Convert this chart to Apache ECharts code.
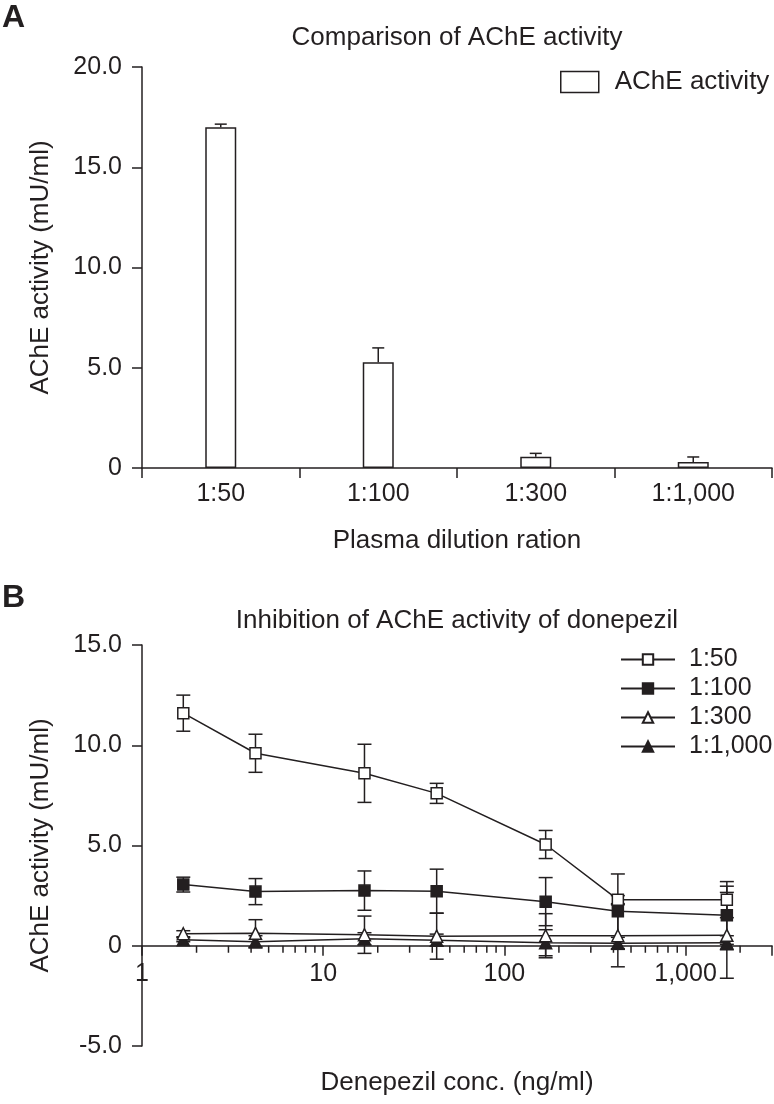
<!DOCTYPE html>
<html>
<head>
<meta charset="utf-8">
<script src="https://cdn.jsdelivr.net/npm/echarts@6/dist/echarts.min.js"></script>
<style>
html,body{margin:0;padding:0;background:#fff;}
#chart{width:774px;height:1104px;}
</style>
</head>
<body>
<div id="chart"></div>
<script>
// ---- Panel A data ----
const categoriesA = ['1:50', '1:100', '1:300', '1:1,000'];
const barValues = [17.0, 5.27, 0.56, 0.30];
const barErrors = [0.15, 0.72, 0.17, 0.25];

// ---- Panel B data ----
const concentrations = [1.69, 4.23, 16.9, 42.3, 169, 423, 1690];
const s50 = [11.6, 9.6, 8.6, 7.6, 5.05, 2.3, 2.3];
const e50 = [0.9, 0.95, 1.45, 0.5, 0.7, 0.2, 0.9];
const s100 = [3.05, 2.7, 2.75, 2.72, 2.2, 1.72, 1.52];
const e100 = [0.37, 0.65, 0.98, 1.1, 1.2, 1.86, 1.45];
const s300 = [0.6, 0.62, 0.55, 0.48, 0.5, 0.5, 0.52];
const e300 = [0.15, 0.68, 0.93, 1.15, 1.1, 1.55, 2.14];
const s1000 = [0.3, 0.2, 0.35, 0.28, 0.15, 0.12, 0.15];
const e1000 = [0.1, 0.3, 0.3, 0.3, 0.65, 0.3, 0.35];
const seriesNamesB = ['1:50', '1:100', '1:300', '1:1,000'];
const majorTicksB = [1, 10, 100, 1000];
const minorTicksB = [2,3,4,5,6,7,8,9,20,30,40,50,60,70,80,90,200,300,400,500,600,700,800,900,2000];

const INK = '#231f20';
const FONT = "'Liberation Sans', Arial, Helvetica, sans-serif";
const LW = 1.5;

function fmtThousands(v) {
  return String(Math.round(v)).replace(/\B(?=(\d{3})+(?!\d))/g, ',');
}
function errRender(capHalf, upOnly) {
  return function (params, api) {
    const x = api.value(0), y = api.value(1), e = api.value(2);
    const pc = api.coord([x, y]);
    const pt = api.coord([x, y + e]);
    const pb = api.coord([x, upOnly ? y : y - e]);
    const st = {stroke: INK, lineWidth: LW, fill: null};
    const ch = [
      {type: 'line', shape: {x1: pc[0], y1: pt[1], x2: pc[0], y2: pb[1]}, style: st},
      {type: 'line', shape: {x1: pc[0] - capHalf, y1: pt[1], x2: pc[0] + capHalf, y2: pt[1]}, style: st}
    ];
    if (!upOnly) ch.push({type: 'line', shape: {x1: pc[0] - capHalf, y1: pb[1], x2: pc[0] + capHalf, y2: pb[1]}, style: st});
    return {type: 'group', children: ch};
  };
}
function zip3(xs, ys, es) { return xs.map((x, i) => [x, ys[i], es[i]]); }
function zip2(xs, ys) { return xs.map((x, i) => [x, ys[i]]); }

const chart = echarts.init(document.getElementById('chart'), null, {renderer: 'canvas'});

const axisLine = {show: true, onZero: false, lineStyle: {color: INK, width: LW}};
const tickStyle = {color: INK, width: LW};
const labelStyle = {color: INK, fontFamily: FONT, fontSize: 25};
const nameStyle = {color: INK, fontFamily: FONT, fontSize: 26};

// Panel B grid: y from -5 to 15 over 401px, x axis drawn at y = 0
const gridBTop = 645, gridBHeight = 401;
const yMinB = -5, yMaxB = 15;
const zeroOffsetB = -gridBHeight * (0 - yMinB) / (yMaxB - yMinB);

function lineSeries(name, data, symbol, fill) {
  return {
    type: 'line', name: name, xAxisIndex: 1, yAxisIndex: 1,
    data: data, symbol: symbol, symbolSize: symbol === 'rect' ? 11 : 12,
    showAllSymbol: true,
    lineStyle: {color: INK, width: LW},
    itemStyle: {color: fill, borderColor: INK, borderWidth: LW},
    z: 5, animation: false
  };
}

const option = {
  animation: false,
  backgroundColor: '#fff',
  grid: [
    {left: 142, right: 2, top: 67, height: 401, outerBoundsMode: 'none', containLabel: false},
    {left: 142, right: 2, top: gridBTop, height: gridBHeight, outerBoundsMode: 'none', containLabel: false}
  ],
  xAxis: [
    {
      type: 'category', gridIndex: 0, data: categoriesA, boundaryGap: true,
      axisLine: axisLine, axisTick: {show: true, length: 10, lineStyle: tickStyle, alignWithLabel: false},
      axisLabel: Object.assign({margin: 14, interval: 0}, labelStyle),
      splitLine: {show: false},
      name: 'Plasma dilution ration', nameLocation: 'middle', nameGap: 60, nameTextStyle: nameStyle
    },
    {
      type: 'log', gridIndex: 1, logBase: 10, min: 1, max: 3000,
      position: 'bottom', offset: zeroOffsetB,
      axisLine: {show: true, onZero: false, lineStyle: {color: INK, width: LW}},
      axisTick: {show: true, length: 10, lineStyle: tickStyle},
      axisLabel: Object.assign({
        margin: 16,
        formatter: function (v) {
          for (const t of majorTicksB) { if (Math.abs(v - t) / t < 1e-6) return fmtThousands(t); }
          return '';
        }
      }, labelStyle),
      splitLine: {show: false}, minorTick: {show: false},
      name: 'Denepezil conc. (ng/ml)', nameLocation: 'middle', nameGap: 124, nameTextStyle: nameStyle
    }
  ],
  yAxis: [
    {
      type: 'value', gridIndex: 0, min: 0, max: 20, interval: 5,
      axisLine: axisLine, axisTick: {show: true, length: 10, lineStyle: tickStyle},
      axisLabel: Object.assign({margin: 20, formatter: v => (v === 0 ? '0' : v.toFixed(1))}, labelStyle),
      splitLine: {show: false},
      name: 'AChE activity (mU/ml)', nameLocation: 'middle', nameGap: 88, nameTextStyle: nameStyle
    },
    {
      type: 'value', gridIndex: 1, min: yMinB, max: yMaxB, interval: 5,
      axisLine: axisLine, axisTick: {show: true, length: 10, lineStyle: tickStyle},
      axisLabel: Object.assign({margin: 20, formatter: v => (v === 0 ? '0' : v.toFixed(1))}, labelStyle),
      splitLine: {show: false},
      name: 'AChE activity (mU/ml)', nameLocation: 'middle', nameGap: 88, nameTextStyle: nameStyle
    }
  ],
  legend: [
    {
      data: ['AChE activity'], left: 555, top: 64, orient: 'vertical', icon: 'rect',
      itemWidth: 38, itemHeight: 21,
      itemStyle: {color: '#fff', borderColor: INK, borderWidth: LW},
      textStyle: {color: INK, fontFamily: FONT, fontSize: 26, padding: [0, 0, 0, 11]},
      selectedMode: false
    },
    {
      data: seriesNamesB, left: 615, top: 640, orient: 'vertical',
      itemWidth: 54, itemHeight: 13, itemGap: 0,
      textStyle: {color: INK, fontFamily: FONT, fontSize: 25, lineHeight: 29, padding: [0, 0, 0, 9]},
      selectedMode: false
    }
  ],
  graphic: [
    {type: 'text', x: 2, y: 18, style: {text: 'A', font: "bold 32px " + FONT, fill: INK, textVerticalAlign: 'middle'}},
    {type: 'text', x: 2, y: 598, style: {text: 'B', font: "bold 32px " + FONT, fill: INK, textVerticalAlign: 'middle'}},
    {type: 'text', x: 457, y: 38, style: {text: 'Comparison of AChE activity', font: "26px " + FONT, fill: INK, textAlign: 'center', textVerticalAlign: 'middle'}},
    {type: 'text', x: 457, y: 621, style: {text: 'Inhibition of AChE activity of donepezil', font: "26px " + FONT, fill: INK, textAlign: 'center', textVerticalAlign: 'middle'}}
  ],
  series: [
    {
      type: 'bar', name: 'AChE activity', xAxisIndex: 0, yAxisIndex: 0,
      data: barValues, barWidth: 31,
      itemStyle: {color: '#fff', borderColor: INK, borderWidth: LW}, z: 3
    },
    {
      type: 'custom', name: 'errA', xAxisIndex: 0, yAxisIndex: 0,
      data: barValues.map((v, i) => [i, v, barErrors[i]]),
      renderItem: errRender(6, true), encode: {x: 0, y: 1}, z: 2, silent: true
    },
    {
      type: 'custom', name: 'minorTicks', xAxisIndex: 1, yAxisIndex: 1,
      data: minorTicksB.map(v => [v, 0]),
      renderItem: function (params, api) {
        const p = api.coord([api.value(0), 0]);
        return {type: 'line', shape: {x1: p[0], y1: p[1], x2: p[0], y2: p[1] + 7}, style: {stroke: INK, lineWidth: LW}};
      },
      encode: {x: 0, y: 1}, z: 1, silent: true
    },
    {type: 'custom', name: 'err50', xAxisIndex: 1, yAxisIndex: 1, data: zip3(concentrations, s50, e50), renderItem: errRender(7, false), encode: {x: 0, y: 1}, z: 2, silent: true},
    {type: 'custom', name: 'err100', xAxisIndex: 1, yAxisIndex: 1, data: zip3(concentrations, s100, e100), renderItem: errRender(7, false), encode: {x: 0, y: 1}, z: 2, silent: true},
    {type: 'custom', name: 'err300', xAxisIndex: 1, yAxisIndex: 1, data: zip3(concentrations, s300, e300), renderItem: errRender(7, false), encode: {x: 0, y: 1}, z: 2, silent: true},
    {type: 'custom', name: 'err1000', xAxisIndex: 1, yAxisIndex: 1, data: zip3(concentrations, s1000, e1000), renderItem: errRender(7, false), encode: {x: 0, y: 1}, z: 2, silent: true},
    lineSeries('1:1,000', zip2(concentrations, s1000), 'triangle', INK),
    lineSeries('1:300', zip2(concentrations, s300), 'triangle', '#fff'),
    lineSeries('1:100', zip2(concentrations, s100), 'rect', INK),
    lineSeries('1:50', zip2(concentrations, s50), 'rect', '#fff')
  ]
};
chart.setOption(option);
</script>
</body>
</html>
